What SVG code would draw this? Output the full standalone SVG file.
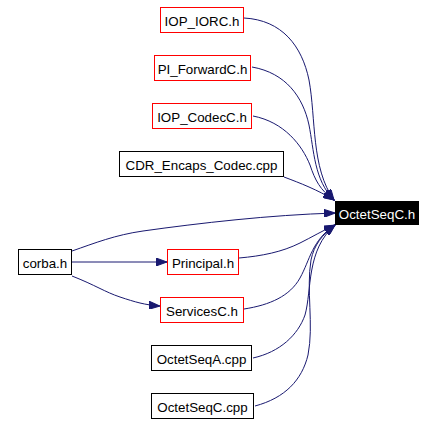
<svg xmlns="http://www.w3.org/2000/svg" width="438" height="424" viewBox="0 0 438 424">
<defs>
<style>
.node rect{fill:#ffffff;stroke:#000000;stroke-width:1}
.node.red rect{stroke:#ff0000}
.node.main rect{fill:#000000;stroke:#000000}
.node text{font-family:"Liberation Sans",Arial,sans-serif;font-size:13.33px;fill:#000000;text-anchor:middle}
.node.main text{fill:#ffffff}
.edge{fill:none;stroke:#191970;stroke-width:1;marker-end:url(#arr)}
</style>
<marker id="arr" markerUnits="userSpaceOnUse" markerWidth="12" markerHeight="8" refX="11" refY="4" orient="auto" viewBox="0 0 12 8">
<path d="M0,0 L11,4 L0,8 Z" fill="#191970" stroke="#191970" stroke-width="1"/>
</marker>
</defs>
<rect width="438" height="424" fill="#ffffff"/>
<g id="edges">
<path class="edge" d="M244,18 C282,20 302,46 309,80 C316,118 311,168 334,200"/>
<path class="edge" d="M252,67 C286,73 303,97 309,125 C314,150 314,180 334,200"/>
<path class="edge" d="M253,116 C284,122 302,145 310,165 C315,180 320,190 334,200"/>
<path class="edge" d="M284,177 C300,183 318,190 334,200"/>
<path class="edge" d="M72,251 C95,243 115,235 143,231 C200,223 270,215 335,213"/>
<path class="edge" d="M72,262 L167,262"/>
<path class="edge" d="M72,276 C95,285 105,292 120,297 C135,302 145,305 160,306"/>
<path class="edge" d="M239,258 C262,256 282,252 300,243 C312,237 322,231 335,225"/>
<path class="edge" d="M244,309 C270,305 290,296 300,278 C310,260 312,240 335,225"/>
<path class="edge" d="M253,358 C280,352 298,335 305,315 C312,290 306,250 335,225"/>
<path class="edge" d="M255,406 C285,398 302,380 308,355 C314,325 306,290 311,260 C314,245 322,235 335,225"/>
</g>
<g id="node-iop-iorc" class="node red"><rect x="160.5" y="7.5" width="83" height="25"/><text x="202" y="25.5">IOP_IORC.h</text></g>
<g id="node-pi-forward" class="node red"><rect x="154.5" y="55.5" width="96" height="25"/><text x="202.5" y="73.5">PI_ForwardC.h</text></g>
<g id="node-iop-codec" class="node red"><rect x="152.5" y="103.5" width="99" height="25"/><text x="202" y="121.5">IOP_CodecC.h</text></g>
<g id="node-cdr" class="node"><rect x="119.5" y="151.5" width="164" height="25"/><text x="201.5" y="169.5">CDR_Encaps_Codec.cpp</text></g>
<g id="node-octetseqc-h" class="node main"><rect x="335.5" y="201.5" width="83" height="23"/><text x="377" y="218.5">OctetSeqC.h</text></g>
<g id="node-corba" class="node"><rect x="18.5" y="249.5" width="53" height="25"/><text x="45" y="267.5">corba.h</text></g>
<g id="node-principal" class="node red"><rect x="167.5" y="249.5" width="71" height="25"/><text x="203" y="267.5">Principal.h</text></g>
<g id="node-services" class="node red"><rect x="160.5" y="297.5" width="83" height="25"/><text x="202" y="315.5">ServicesC.h</text></g>
<g id="node-octetseqa-cpp" class="node"><rect x="151.5" y="345.5" width="100" height="25"/><text x="201.5" y="363.5">OctetSeqA.cpp</text></g>
<g id="node-octetseqc-cpp" class="node"><rect x="151.5" y="393.5" width="102" height="25"/><text x="202.5" y="411.5">OctetSeqC.cpp</text></g>
</svg>
